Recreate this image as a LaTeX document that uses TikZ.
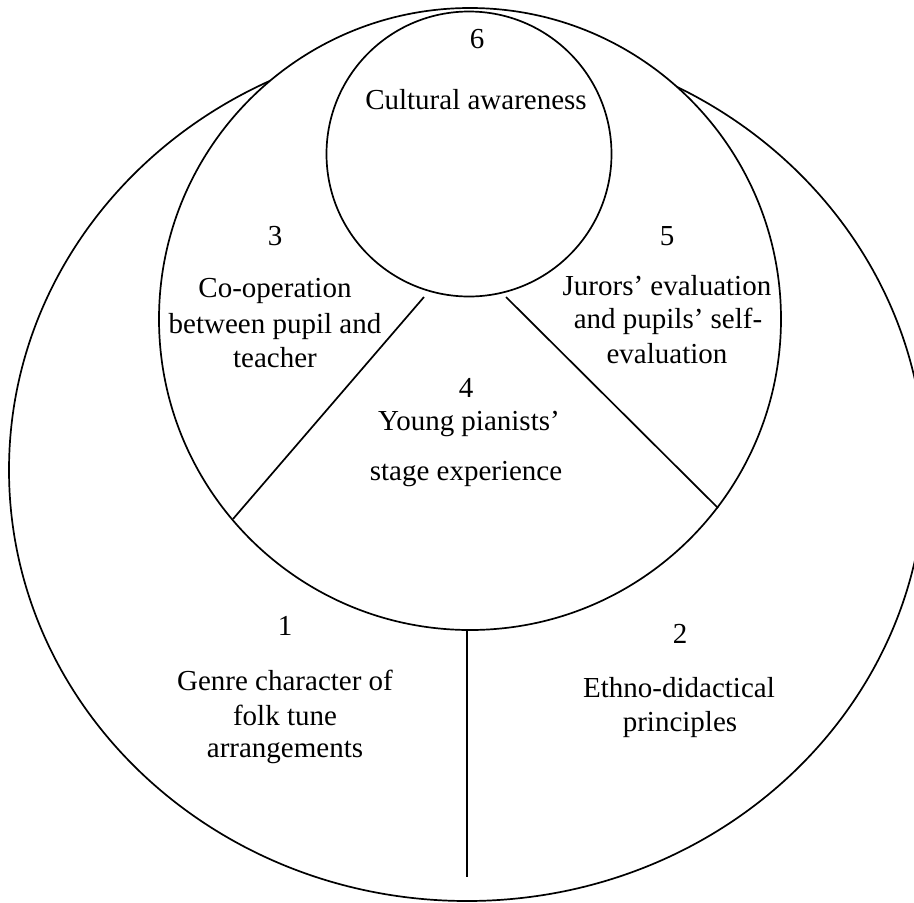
\documentclass[tikz,border=0pt]{standalone}
\usepackage{fontspec}
\setmainfont{Liberation Serif}
\begin{document}
\begin{tikzpicture}[x=1pt,y=-1pt,line width=1.7pt,
  lbl/.style={anchor=base,font=\fontsize{29}{34}\selectfont,inner sep=0pt}]
\useasboundingbox (0,0) rectangle (914,903);
\clip (0,0) rectangle (914,903);
% outer region (1 and 2)
\draw (467,470) ellipse [x radius=458pt, y radius=431pt];
% middle circle (3, 4, 5)
\draw[fill=white] (470,319) circle [radius=311pt];
% inner circle (6)
\draw[fill=white] (469,154) circle [radius=142.5pt];
% dividers
\coordinate (la) at (424,297);
\coordinate (lb) at (233,519);
\coordinate (ra) at (506,297);
\coordinate (rb) at (718,508);
\coordinate (va) at (467,629);
\coordinate (vb) at (467,877);
\draw (la) -- (lb);
\draw (ra) -- (rb);
\draw (va) -- (vb);
% labels
\node[lbl] (n6) at (477,48) {6};
\node[lbl] (t6) at (476,109) {Cultural awareness};
\node[lbl] (n3) at (275,245) {3};
\node[lbl] (t3a) at (275,297) {Co-operation};
\node[lbl] (t3b) at (275,333) {between pupil and};
\node[lbl] (t3c) at (275,367) {teacher};
\node[lbl] (n5) at (667,245) {5};
\node[lbl] (t5a) at (667,295) {Jurors’ evaluation};
\node[lbl] (t5b) at (668,328) {and pupils’ self-};
\node[lbl] (t5c) at (667,363) {evaluation};
\node[lbl] (n4) at (466,397) {4};
\node[lbl] (t4a) at (469,430) {Young pianists’};
\node[lbl] (t4b) at (466,480) {stage experience};
\node[lbl] (n1) at (285,635) {1};
\node[lbl] (t1a) at (285,690) {Genre character of};
\node[lbl] (t1b) at (285,725) {folk tune};
\node[lbl] (t1c) at (285,757) {arrangements};
\node[lbl] (n2) at (680,643) {2};
\node[lbl] (t2a) at (679,697) {Ethno-didactical};
\node[lbl] (t2b) at (680,731) {principles};
\end{tikzpicture}
\end{document}
